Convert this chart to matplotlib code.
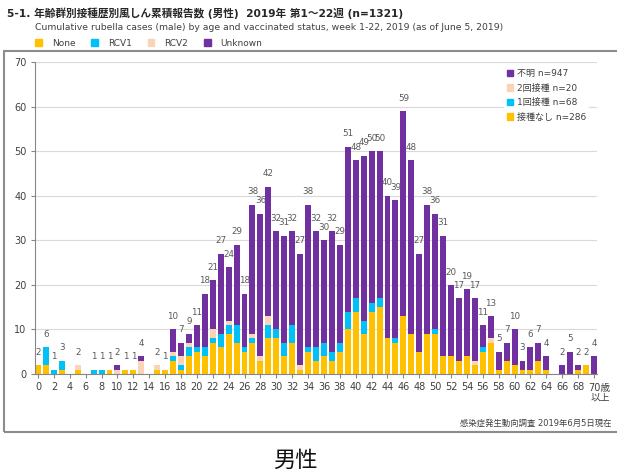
import numpy as np
import matplotlib
matplotlib.use('Agg')
import matplotlib.pyplot as plt
from matplotlib.patches import Rectangle, Patch

plt.rcParams['font.family'] = ['DejaVu Sans', 'Noto Sans CJK JP']

# 年齢 0〜70歳以上
ages = np.arange(0, 71)

# 接種歴別の報告数 (男性)
none_ = [2, 2, 0, 1, 0, 1, 0, 0, 0, 1, 0, 1, 1, 0, 0, 1, 1, 3, 1, 4,
         5, 4, 7, 6, 9, 7, 5, 7, 3, 8, 8, 4, 7, 1, 5, 3, 4, 3, 5, 10,
         14, 9, 14, 15, 8, 7, 13, 9, 5, 9, 9, 4, 4, 3, 4, 2, 5, 7, 1, 3,
         2, 1, 1, 3, 1, 0, 0, 0, 1, 2, 0]
rcv1 = [0, 4, 1, 2, 0, 0, 0, 1, 1, 0, 0, 0, 0, 0, 0, 0, 0, 1, 1, 2,
        1, 2, 1, 3, 2, 4, 1, 1, 0, 3, 2, 3, 4, 0, 1, 3, 3, 2, 2, 4,
        3, 3, 2, 2, 0, 1, 0, 0, 0, 0, 1, 0, 0, 0, 0, 0, 1, 0, 0, 0,
        0, 0, 0, 0, 0, 0, 0, 0, 0, 0, 0]
rcv2 = [0, 0, 0, 0, 0, 1, 0, 0, 0, 0, 1, 0, 0, 3, 0, 1, 0, 1, 2, 1,
        0, 0, 2, 0, 1, 0, 0, 1, 1, 2, 0, 0, 0, 1, 0, 0, 0, 0, 0, 0,
        0, 0, 0, 0, 0, 0, 0, 0, 0, 0, 0, 0, 0, 0, 0, 1, 0, 1, 0, 0,
        0, 0, 0, 0, 0, 0, 0, 0, 0, 0, 0]
unknown = [0, 0, 0, 0, 0, 0, 0, 0, 0, 0, 1, 0, 0, 1, 0, 0, 0, 5, 3, 2,
           5, 12, 11, 18, 12, 18, 12, 29, 32, 29, 22, 24, 21, 25, 32, 26, 23, 27, 22, 37,
           31, 37, 34, 33, 32, 31, 46, 39, 22, 29, 26, 27, 16, 14, 15, 14, 5, 5, 4, 4,
           8, 2, 5, 4, 3, 0, 2, 5, 1, 0, 4]

none_ = np.array(none_)
rcv1 = np.array(rcv1)
rcv2 = np.array(rcv2)
unknown = np.array(unknown)
total = none_ + rcv1 + rcv2 + unknown

c_none = '#FFC000'
c_rcv1 = '#00C0F8'
c_rcv2 = '#FBD3B5'
c_unk = '#7030A0'

W, H = 617, 475
fig = plt.figure(figsize=(W / 100, H / 100), dpi=100)
ax = fig.add_axes([35 / W, 101 / H, 562 / W, 312 / H])

w = 0.75
b1 = ax.bar(ages, none_, w, color=c_none)
b2 = ax.bar(ages, rcv1, w, bottom=none_, color=c_rcv1)
b3 = ax.bar(ages, rcv2, w, bottom=none_ + rcv1, color=c_rcv2)
b4 = ax.bar(ages, unknown, w, bottom=none_ + rcv1 + rcv2, color=c_unk)

# 合計値ラベル
ax.bar_label(b4, labels=[str(t) if t > 0 else '' for t in total],
             padding=6, fontsize=6.3, color='#595959')

ax.set_xlim(-0.38, 70.38)
ax.set_ylim(0, 70)
ax.set_yticks(range(0, 71, 10))
ax.set_xticks(range(0, 71, 2))
ax.set_xticklabels([str(a) if a < 70 else '' for a in range(0, 71, 2)])
ax.tick_params(axis='both', labelsize=7, colors='#868686', labelcolor='#404040',
               length=3, width=0.8, pad=3)
ax.grid(axis='y', color='#d9d9d9', lw=0.8)
ax.set_axisbelow(True)
for s in ['top', 'right']:
    ax.spines[s].set_visible(False)
for s in ['left', 'bottom']:
    ax.spines[s].set_color('#868686')
    ax.spines[s].set_linewidth(0.8)

ax.annotate('70歳\n以上', xy=(70, 0), xycoords=('data', 'axes fraction'),
            xytext=(-4.5, -6.5), textcoords='offset points',
            ha='left', va='top', multialignment='right',
            fontsize=7, color='#404040', linespacing=1.0)

# 図中の凡例
h_in = [Patch(color=c_unk), Patch(color=c_rcv2), Patch(color=c_rcv1), Patch(color=c_none)]
l_in = [f'不明 n={unknown.sum()}', f'2回接種 n={rcv2.sum()}',
        f'1回接種 n={rcv1.sum()}', f'接種なし n={none_.sum()}']
leg = ax.legend(h_in, l_in, loc='upper right', bbox_to_anchor=(0.993, 1.0),
                fontsize=6.5, frameon=True, facecolor='white', edgecolor='none',
                framealpha=1, handlelength=0.7, handleheight=0.7,
                handletextpad=0.4, labelspacing=0.6, borderpad=0.3)
for t in leg.get_texts():
    t.set_color('#404040')

# 上部の凡例
h_top = [Patch(color=c_none), Patch(color=c_rcv1), Patch(color=c_rcv2), Patch(color=c_unk)]
fig.legend(h_top, ['None', 'RCV1', 'RCV2', 'Unknown'], loc='center left',
           bbox_to_anchor=(27 / W, 1 - 43 / H), ncol=4, frameon=False,
           fontsize=6.5, handlelength=0.75, handleheight=0.75,
           handletextpad=1.1, columnspacing=1.75, labelcolor='#404040')

fig.text(7 / W, 1 - 13 / H,
         '5-1. 年齢群別接種歴別風しん累積報告数 (男性)  2019年 第1～22週 (n=1321)',
         fontsize=7.7, weight='bold', va='center', color='#262626')
fig.text(35 / W, 1 - 27 / H,
         'Cumulative rubella cases (male) by age and vaccinated status, week 1-22, 2019 (as of June 5, 2019)',
         fontsize=6.7, va='center', color='#404040')
fig.text(612 / W, 1 - 423 / H, '感染症発生動向調査 2019年6月5日現在',
         fontsize=6, ha='right', va='center', color='#404040')
fig.text(295 / W, 1 - 460 / H, '男性', fontsize=16, ha='center', va='center',
         family=['Noto Sans CJK JP'], color='#111111')

# 外枠
fig.add_artist(Rectangle((4 / W, 1 - 432 / H), 620 / W, 381 / H,
                         transform=fig.transFigure, fill=False,
                         edgecolor='#8c8c8c', lw=1.5, clip_on=False))

fig.savefig('out.png', dpi=100)
